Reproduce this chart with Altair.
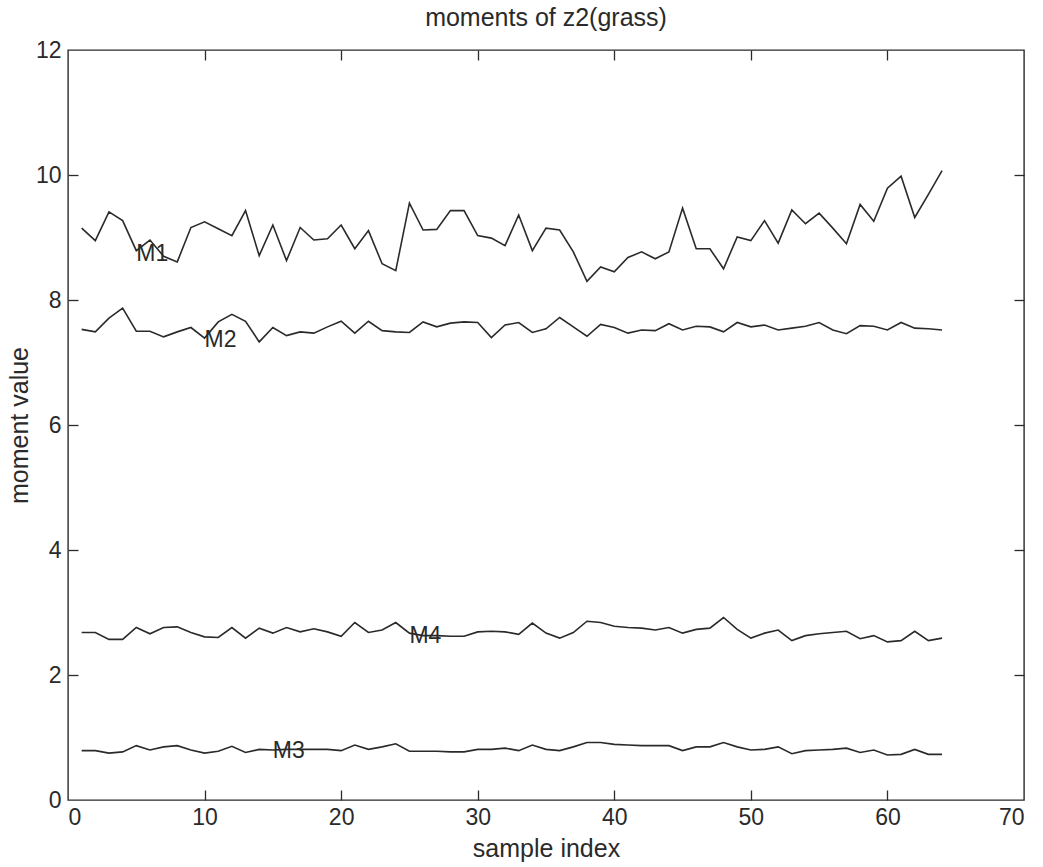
import altair as alt
import pandas as pd

# sample positions along the x axis
sample = list(range(1, 65))

# first through fourth moments of the grass texture samples
m1 = [9.15, 8.95, 9.41, 9.27, 8.79, 8.96, 8.70, 8.61, 9.16, 9.25,
      9.14, 9.03, 9.43, 8.71, 9.20, 8.63, 9.16, 8.96, 8.98, 9.20,
      8.82, 9.11, 8.58, 8.47, 9.55, 9.12, 9.13, 9.43, 9.43, 9.03,
      8.99, 8.87, 9.36, 8.79, 9.15, 9.12, 8.77, 8.30, 8.53, 8.45,
      8.68, 8.77, 8.66, 8.77, 9.47, 8.82, 8.82, 8.50, 9.01, 8.95,
      9.27, 8.91, 9.44, 9.22, 9.39, 9.15, 8.90, 9.53, 9.26, 9.79,
      9.98, 9.32, 9.69, 10.07]
m2 = [7.53, 7.49, 7.71, 7.87, 7.50, 7.50, 7.41, 7.49, 7.56, 7.39,
      7.65, 7.77, 7.66, 7.33, 7.56, 7.43, 7.49, 7.47, 7.57, 7.66,
      7.47, 7.66, 7.51, 7.49, 7.48, 7.65, 7.57, 7.63, 7.65, 7.64,
      7.40, 7.60, 7.64, 7.48, 7.54, 7.72, 7.57, 7.42, 7.61, 7.56,
      7.47, 7.52, 7.51, 7.62, 7.52, 7.58, 7.57, 7.49, 7.64, 7.57,
      7.60, 7.52, 7.55, 7.58, 7.64, 7.52, 7.46, 7.59, 7.58, 7.52,
      7.64, 7.55, 7.54, 7.52]
m3 = [0.79, 0.79, 0.75, 0.77, 0.87, 0.80, 0.85, 0.87, 0.80, 0.75,
      0.78, 0.86, 0.76, 0.81, 0.80, 0.81, 0.81, 0.81, 0.81, 0.79,
      0.88, 0.81, 0.85, 0.90, 0.78, 0.78, 0.78, 0.77, 0.77, 0.81,
      0.81, 0.83, 0.79, 0.88, 0.81, 0.79, 0.85, 0.92, 0.92, 0.89,
      0.88, 0.87, 0.87, 0.87, 0.79, 0.85, 0.85, 0.92, 0.85, 0.80,
      0.81, 0.85, 0.74, 0.79, 0.80, 0.81, 0.83, 0.76, 0.80, 0.72,
      0.73, 0.81, 0.73, 0.73]
m4 = [2.68, 2.68, 2.57, 2.57, 2.76, 2.66, 2.76, 2.77, 2.68, 2.61,
      2.60, 2.76, 2.59, 2.75, 2.67, 2.76, 2.69, 2.74, 2.69, 2.62,
      2.84, 2.68, 2.72, 2.84, 2.67, 2.63, 2.63, 2.62, 2.62, 2.69,
      2.70, 2.69, 2.65, 2.83, 2.67, 2.59, 2.68, 2.86, 2.84, 2.78,
      2.76, 2.75, 2.72, 2.76, 2.67, 2.73, 2.75, 2.92, 2.73, 2.59,
      2.67, 2.72, 2.55, 2.63, 2.66, 2.68, 2.70, 2.58, 2.63, 2.53,
      2.55, 2.70, 2.55, 2.59]

series_names = ["M1", "M2", "M3", "M4"]
label_x = [5, 10, 15, 25]
label_y = [8.74, 7.36, 0.78, 2.62]

x_labels = [0, 10, 20, 30, 40, 50, 60, 70]
y_labels = [0, 2, 4, 6, 8, 10, 12]
x_inner_ticks = [10, 20, 30, 40, 50, 60]
y_inner_ticks = [2, 4, 6, 8, 10]

rows = []
for name, vals in zip(series_names, [m1, m2, m3, m4]):
    for i, v in zip(sample, vals):
        rows.append({"sample": i, "value": v, "series": name})
lines_df = pd.DataFrame(rows)
labels_df = pd.DataFrame({"sample": label_x, "value": label_y, "name": series_names})

FONT = "Liberation Sans"
FS = 23        # tick labels and in-plot text
FS_TITLE = 25  # axis titles and chart title
INK = "#2a2a2a"
W, H = 956, 750

x_scale = alt.Scale(domain=[0, 70], nice=False, zero=False)
y_scale = alt.Scale(domain=[0, 12], nice=False, zero=False)

common_axis = dict(grid=False, domain=False, labelFont=FONT, labelFontSize=FS,
                   labelColor=INK, titleFont=FONT, titleFontSize=FS_TITLE,
                   titleColor=INK, titleFontWeight="normal")

# main axes: labels and titles, no ticks (ticks are drawn inward below)
lines = alt.Chart(lines_df).mark_line(color=INK, strokeWidth=1.6).encode(
    x=alt.X("sample:Q", scale=x_scale,
            axis=alt.Axis(orient="bottom", values=x_labels, ticks=False,
                          labelPadding=6, title="sample index",
                          titleX=W / 2, titleY=36, **common_axis)),
    y=alt.Y("value:Q", scale=y_scale,
            axis=alt.Axis(orient="left", values=y_labels, ticks=False,
                          labelPadding=7, title="moment value",
                          titleX=-36, titleY=H / 2, **common_axis)),
    detail="series:N",
)

tick_axis = dict(grid=False, domain=False, labels=False, title="",
                 tickSize=10, tickColor=INK, tickWidth=1.3, offset=-10)

# series labels, also carrying the inward ticks on the bottom and left edges
labels = alt.Chart(labels_df).mark_text(
    align="left", baseline="middle", font=FONT, fontSize=FS, color=INK
).encode(
    x=alt.X("sample:Q", scale=x_scale,
            axis=alt.Axis(orient="bottom", values=x_inner_ticks, **tick_axis)),
    y=alt.Y("value:Q", scale=y_scale,
            axis=alt.Axis(orient="left", values=y_inner_ticks, **tick_axis)),
    text="name:N",
)

# invisible carrier for the inward ticks on the top and right edges
frame_ticks = alt.Chart(labels_df).mark_point(opacity=0).encode(
    x=alt.X("sample:Q", scale=x_scale,
            axis=alt.Axis(orient="top", values=x_inner_ticks, **tick_axis)),
    y=alt.Y("value:Q", scale=y_scale,
            axis=alt.Axis(orient="right", values=y_inner_ticks, **tick_axis)),
)

chart = alt.layer(lines, labels, frame_ticks).resolve_axis(
    x="independent", y="independent"
).properties(
    width=W, height=H,
    title=alt.TitleParams("moments of z2(grass)", font=FONT, fontSize=FS_TITLE,
                          fontWeight="normal", color=INK, offset=8),
    autosize="none",
    padding={"left": 68, "top": 50, "right": 19, "bottom": 67},
    background="white",
).configure_view(stroke=INK, strokeWidth=1.4)

chart.save("out.html", embed_options={"renderer": "svg", "actions": False})
